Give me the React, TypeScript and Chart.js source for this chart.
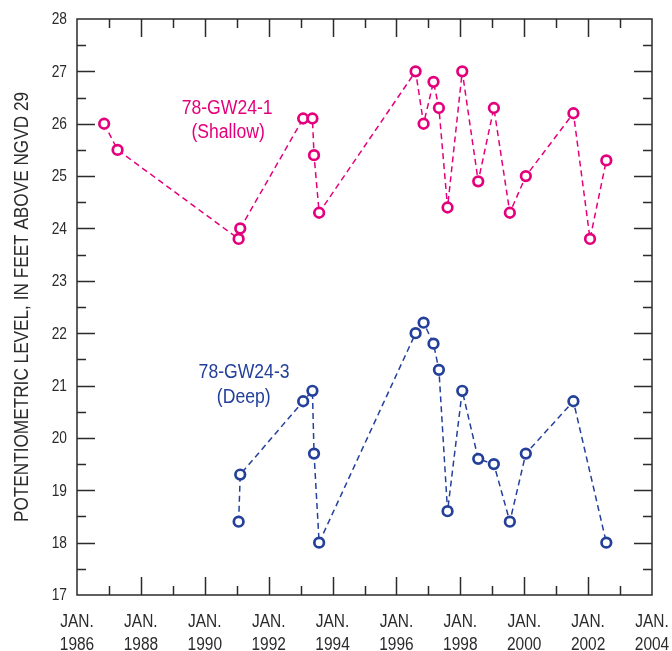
import React, { useEffect, useRef } from "react";
import { Chart, registerables } from "chart.js";

Chart.register(...registerables);

const shallowDates = [1986.85, 1987.27, 1991.06, 1991.11, 1993.08, 1993.37, 1993.42, 1993.58, 1996.6, 1996.85, 1997.16, 1997.33, 1997.6, 1998.06, 1998.56, 1999.05, 1999.55, 2000.05, 2001.54, 2002.06, 2002.57];
const shallowLevels = [26.0, 25.5, 23.8, 24.0, 26.1, 26.1, 25.4, 24.3, 27.0, 26.0, 26.8, 26.3, 24.4, 27.0, 24.9, 26.3, 24.3, 25.0, 26.2, 23.8, 25.3];

const deepDates = [1991.06, 1991.11, 1993.08, 1993.37, 1993.42, 1993.58, 1996.6, 1996.85, 1997.16, 1997.33, 1997.6, 1998.06, 1998.56, 1999.05, 1999.55, 2000.05, 2001.54, 2002.57];
const deepLevels = [18.4, 19.3, 20.7, 20.9, 19.7, 18.0, 22.0, 22.2, 21.8, 21.3, 18.6, 20.9, 19.6, 19.5, 18.4, 19.7, 20.7, 18.0];

const xMin = 1986;
const xMax = 2004;
const yMin = 17;
const yMax = 28;
const xTickYears = [1986, 1988, 1990, 1992, 1994, 1996, 1998, 2000, 2002, 2004];
const xTickPrefix = "JAN.";
const yTickValues = [17, 18, 19, 20, 21, 22, 23, 24, 25, 26, 27, 28];

const shallowLabel = ["78-GW24-1", "(Shallow)"];
const deepLabel = ["78-GW24-3", "(Deep)"];
const yTitle = "POTENTIOMETRIC LEVEL, IN FEET ABOVE NGVD 29";

const PINK = "#e4007c";
const BLUE = "#24409a";
const INK = "#2b2b2b";
const FONT = "'Liberation Sans', Arial, sans-serif";
const SX = 0.86;

function condensed(ctx: CanvasRenderingContext2D, text: string, x: number, y: number, sx: number, rot = 0) {
  ctx.save();
  ctx.translate(x, y);
  if (rot) ctx.rotate(rot);
  ctx.scale(sx, 1);
  ctx.fillText(text, 0, 0);
  ctx.restore();
}

const framePlugin = {
  id: "frameTicks",
  afterDraw(chart: any) {
    const { ctx, chartArea: a, scales } = chart;
    const xs = scales.x;
    const ys = scales.y;
    ctx.save();
    ctx.strokeStyle = INK;
    ctx.lineWidth = 1.5;
    ctx.strokeRect(a.left, a.top, a.right - a.left, a.bottom - a.top);
    ctx.beginPath();
    for (let yr = xMin + 1; yr < xMax; yr++) {
      const px = Math.round(xs.getPixelForValue(yr)) + 0.5;
      const len = (yr - xMin) % 2 === 0 ? 18 : 9;
      ctx.moveTo(px, a.bottom);
      ctx.lineTo(px, a.bottom - len);
      ctx.moveTo(px, a.top);
      ctx.lineTo(px, a.top + len);
    }
    for (let v = yMin + 0.5; v < yMax; v += 0.5) {
      const py = Math.round(ys.getPixelForValue(v)) + 0.5;
      const len = Number.isInteger(v) ? 18 : 9;
      ctx.moveTo(a.left, py);
      ctx.lineTo(a.left + len, py);
      ctx.moveTo(a.right, py);
      ctx.lineTo(a.right - len, py);
    }
    ctx.stroke();

    // tick labels
    ctx.fillStyle = INK;
    ctx.textBaseline = "middle";
    ctx.textAlign = "center";
    ctx.font = `18px ${FONT}`;
    for (const yr of xTickYears) {
      const px = xs.getPixelForValue(yr);
      condensed(ctx, xTickPrefix, px, a.bottom + 27, SX);
      condensed(ctx, String(yr), px, a.bottom + 50, SX);
    }
    ctx.textAlign = "right";
    ctx.font = `16px ${FONT}`;
    for (const v of yTickValues) {
      condensed(ctx, String(v), a.left - 10, ys.getPixelForValue(v) + 1, SX);
    }
    // axis title
    ctx.textAlign = "center";
    ctx.font = `20px ${FONT}`;
    condensed(ctx, yTitle, 22, (a.top + a.bottom) / 2, SX, -Math.PI / 2);

    // series labels
    ctx.font = `20px ${FONT}`;
    ctx.fillStyle = PINK;
    condensed(ctx, shallowLabel[0], xs.getPixelForValue(1990.7), ys.getPixelForValue(26.29), 0.88);
    condensed(ctx, shallowLabel[1], xs.getPixelForValue(1990.73), ys.getPixelForValue(25.83), 0.88);
    ctx.fillStyle = BLUE;
    condensed(ctx, deepLabel[0], xs.getPixelForValue(1991.23), ys.getPixelForValue(21.25), 0.88);
    condensed(ctx, deepLabel[1], xs.getPixelForValue(1991.22), ys.getPixelForValue(20.77), 0.88);
    ctx.restore();
  },
};

function dataset(label: string, xsArr: number[], ysArr: number[], color: string) {
  return {
    label,
    data: xsArr.map((x, i) => ({ x, y: ysArr[i] })),
    borderColor: color,
    backgroundColor: "#ffffff",
    borderWidth: 1.5,
    borderDash: [6, 4],
    pointRadius: 4.8,
    pointBorderWidth: 2.7,
    pointBorderColor: color,
    pointBackgroundColor: "#ffffff",
    showLine: true,
    tension: 0,
  };
}

export default function App() {
  const ref = useRef<HTMLCanvasElement>(null);
  useEffect(() => {
    document.body.style.margin = "0";
    const chart = new Chart(ref.current as HTMLCanvasElement, {
      type: "scatter",
      data: {
        datasets: [
          dataset("78-GW24-1 (Shallow)", shallowDates, shallowLevels, PINK),
          dataset("78-GW24-3 (Deep)", deepDates, deepLevels, BLUE),
        ],
      },
      options: {
        responsive: false,
        animation: false,
        layout: { padding: { left: 0, top: 19, right: 20, bottom: 0 } },
        plugins: { legend: { display: false }, tooltip: { enabled: false } },
        scales: {
          x: {
            type: "linear",
            min: xMin,
            max: xMax,
            grid: { display: false, drawTicks: false },
            border: { display: false },
            ticks: { display: false, stepSize: 2 },
            afterFit: (s: any) => {
              s.height = 56;
              s.paddingLeft = 0;
              s.paddingRight = 0;
            },
          },
          y: {
            min: yMin,
            max: yMax,
            grid: { display: false, drawTicks: false },
            border: { display: false },
            ticks: { display: false, stepSize: 1 },
            afterFit: (s: any) => {
              s.width = 77;
              s.paddingTop = 0;
              s.paddingBottom = 0;
            },
          },
        },
      } as any,
      plugins: [framePlugin],
    });
    return () => chart.destroy();
  }, []);
  return <canvas ref={ref} width={672} height={651} style={{ display: "block" }} />;
}
